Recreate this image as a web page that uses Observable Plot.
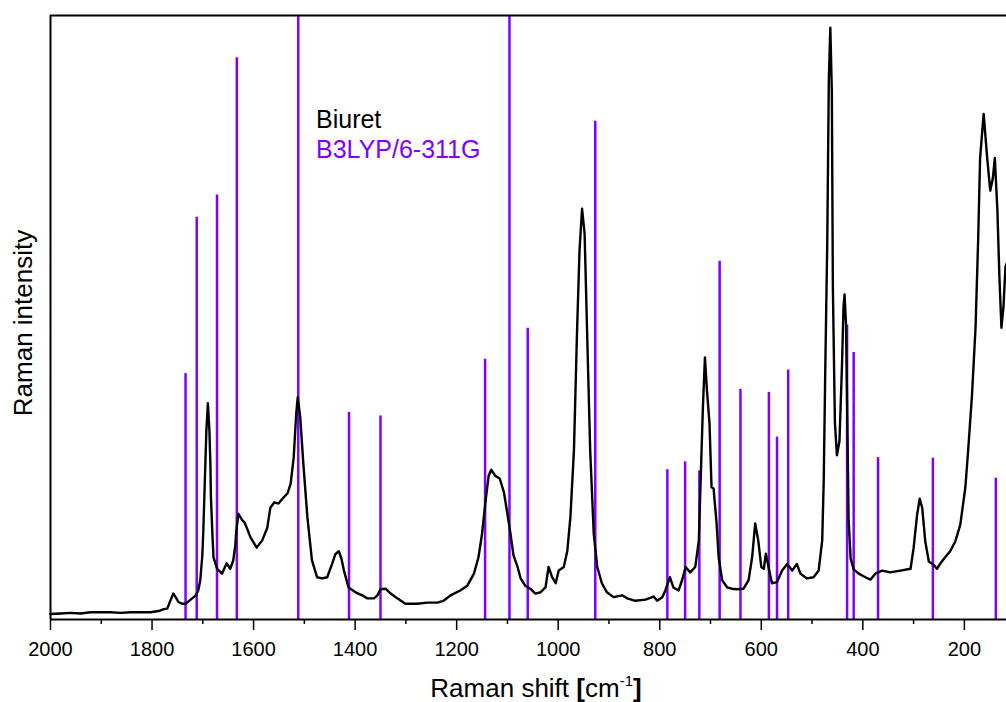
<!DOCTYPE html>
<html>
<head>
<meta charset="utf-8">
<script src="https://cdn.jsdelivr.net/npm/d3@7"></script>
<script src="https://cdn.jsdelivr.net/npm/@observablehq/plot@0.6"></script>
<style>
  html, body { margin: 0; padding: 0; background: #fff; }
  #chart svg { display: block; }
</style>
</head>
<body>
<div id="chart"></div>
<script>
// Measured Raman spectrum of biuret (shift in cm-1, relative intensity)
const spectrumShift = [
  2000,1980,1961,1941,1921,1902,1882,1862,1842,1823,1803,1787,1777,1770,1764,1758,1752,1748,1740,1734,
  1724,1714,1709,1705,1701,1699,1696,1693,1690,1687,1685,1684,1681,1679,1672,1662,1653,1646,1640,1636,
  1634,1630,1622,1618,1613,1606,1594,1583,1573,1567,1559,1551,1541,1533,1527,1521,1516,1513,1508,1502,
  1494,1485,1475,1465,1455,1445,1439,1432,1427,1422,1413,1399,1386,1376,1363,1356,1350,1340,1330,1317,
  1301,1278,1258,1238,1226,1212,1193,1179,1166,1157,1150,1143,1137,1132,1124,1115,1107,1101,1094,1088,
  1080,1074,1065,1055,1045,1035,1025,1019,1012,1005,999,989,982,976,969,963,958,953,948,943,
  937,930,923,914,904,891,874,864,848,828,812,805,795,789,780,773,763,756,749,740,
  730,723,719,715,711,707,702,698,694,688,684,677,667,658,648,635,625,618,612,606,
  600,595,591,585,579,569,559,549,539,530,523,510,497,487,480,477,474,470,467,464,
  461,459,455,451,446,441,438,436,433,431,428,424,418,408,395,385,375,362,346,326,
  306,300,293,288,283,277,270,260,254,247,237,228,218,208,198,192,185,178,173,169,
  162,155,149,144,140,135,131,127,123,119,117
];
const spectrumIntensity = [
  0.9,1.0,1.1,1.0,1.2,1.2,1.2,1.1,1.2,1.2,1.2,1.4,1.7,1.8,3.1,4.3,3.5,2.9,2.6,2.6,
  3.3,4.0,4.8,6.5,10.6,14.7,23.0,31.3,35.8,31.3,25.5,20.2,13.9,10.3,8.4,7.6,9.3,8.4,9.8,12.3,
  14.7,17.5,16.4,16.1,15.1,13.6,11.9,13.1,15.2,18.5,19.4,19.2,20.2,20.9,22.5,26.8,34.1,36.8,33.4,25.8,
  16.9,9.8,7.0,6.8,7.0,9.3,10.8,11.3,10.1,8.1,5.3,4.5,4.0,3.5,3.5,4.0,5.0,5.1,4.3,3.5,
  2.6,2.6,2.8,2.8,3.1,4.0,4.8,5.6,7.6,10.3,14.2,19.7,23.8,24.8,23.8,23.3,21.1,18.0,14.2,10.6,
  8.7,6.8,5.6,5.1,4.3,4.5,5.3,8.7,7.0,6.0,8.1,8.7,11.4,16.9,28.0,47.4,61.1,68.0,63.9,47.4,
  28.0,14.2,8.7,6.0,4.5,3.7,4.0,3.5,3.1,3.3,3.8,3.1,3.7,4.8,7.0,5.3,4.8,6.5,8.7,7.8,
  8.7,13.1,24.2,35.1,43.4,37.9,32.5,21.9,21.7,15.9,10.3,6.5,5.3,5.1,5.0,5.1,6.5,10.3,15.9,13.1,
  8.7,8.4,10.9,8.4,6.0,6.2,8.1,9.2,8.1,9.2,7.6,6.8,7.0,8.1,13.1,23.0,41.2,62.7,89.2,98.0,
  87.3,55.1,32.6,27.2,29.5,42.2,51.8,53.8,48.7,35.8,16.6,10.1,8.3,7.6,7.0,6.6,7.6,8.1,7.8,8.1,
  8.4,11.8,17.4,20.0,18.5,12.9,9.6,9.0,8.4,9.3,10.4,11.3,12.9,15.7,21.9,28.6,37.1,48.3,62.3,76.4,
  83.7,76.4,71.0,73.0,76.4,67.9,56.8,48.3,51.7,58.4,58.9
];

// Calculated B3LYP/6-311G Raman lines (shift in cm-1, relative intensity)
const stickShift = [1734,1712,1672,1633,1512,1412,1350,1144,1096,1060,927,785,750,722,682,641,585,569,547,431,418,370,262,138];
const stickIntensity = [40.7,66.6,70.3,93.0,100,34.3,33.7,43.1,100,48.2,82.5,24.8,26.1,24.6,59.3,38.1,37.6,30.2,41.3,48.7,44.2,26.8,26.7,23.4];

// Axis ticks
const majorTicks = [2000,1800,1600,1400,1200,1000,800,600,400,200];
const minorTicks = [1900,1700,1500,1300,1100,900,700,500,300];

// Texts
const seriesNames = ["Biuret", "B3LYP/6-311G"];
const xTitle = ["Raman shift ", "[", "cm", "-1", "]"];
const yTitle = "Raman intensity";

const purple = "#8000ff";
const font = "'Liberation Sans', Arial, Helvetica, sans-serif";

const spectrum = spectrumShift.map((x, i) => ({x, y: spectrumIntensity[i]}));
const sticks = stickShift.map((x, i) => ({x, y: stickIntensity[i]}));

const chart = Plot.plot({
  width: 1006,
  height: 702,
  marginLeft: 50,
  marginRight: 0,
  marginTop: 15,
  marginBottom: 83,
  style: {fontFamily: font, background: "#fff", overflow: "visible"},
  x: {domain: [2000, 117], label: null},
  y: {domain: [0, 100], axis: null},
  marks: [
    Plot.ruleX(sticks, {x: "x", y1: 0, y2: "y", stroke: purple, strokeWidth: 2.5}),
    Plot.line(spectrum, {x: "x", y: "y", stroke: "#000", strokeWidth: 2.4, strokeLinejoin: "round", curve: "linear"}),
    Plot.ruleY([0], {stroke: "#000", strokeWidth: 2}),
    Plot.ruleY([100], {stroke: "#000", strokeWidth: 2}),
    Plot.ruleX([2000], {stroke: "#000", strokeWidth: 2}),
    Plot.axisX({ticks: majorTicks, tickSize: 11, tickPadding: 11, fontSize: 20, strokeWidth: 1.5, label: null, tickFormat: d => String(d), fill: "#000"}),
    Plot.axisX({ticks: minorTicks, tickSize: 5, strokeWidth: 1.5, tickFormat: () => "", label: null})
  ]
});

document.getElementById("chart").appendChild(chart);

const svg = d3.select(chart);

// Legend texts
svg.append("text")
  .attr("x", 316).attr("y", 128)
  .attr("text-anchor", "start")
  .attr("font-family", font).attr("font-size", 25).attr("fill", "#000")
  .text(seriesNames[0]);
svg.append("text")
  .attr("x", 316).attr("y", 158)
  .attr("text-anchor", "start")
  .attr("font-family", font).attr("font-size", 25).attr("fill", purple)
  .text(seriesNames[1]);

// X axis title
const xt = svg.append("text")
  .attr("x", 536).attr("y", 697)
  .attr("text-anchor", "middle")
  .attr("font-family", font).attr("font-size", 26).attr("fill", "#000");
xt.append("tspan").text(xTitle[0]);
xt.append("tspan").attr("font-weight", "bold").text(xTitle[1]);
xt.append("tspan").text(xTitle[2]);
xt.append("tspan").attr("font-size", 15).attr("dy", -11).text(xTitle[3]);
xt.append("tspan").attr("font-weight", "bold").attr("dy", 11).text(xTitle[4]);

// Y axis title
svg.append("text")
  .attr("transform", "translate(32,323) rotate(-90)")
  .attr("text-anchor", "middle")
  .attr("font-family", font).attr("font-size", 26).attr("fill", "#000")
  .text(yTitle);
</script>
</body>
</html>
